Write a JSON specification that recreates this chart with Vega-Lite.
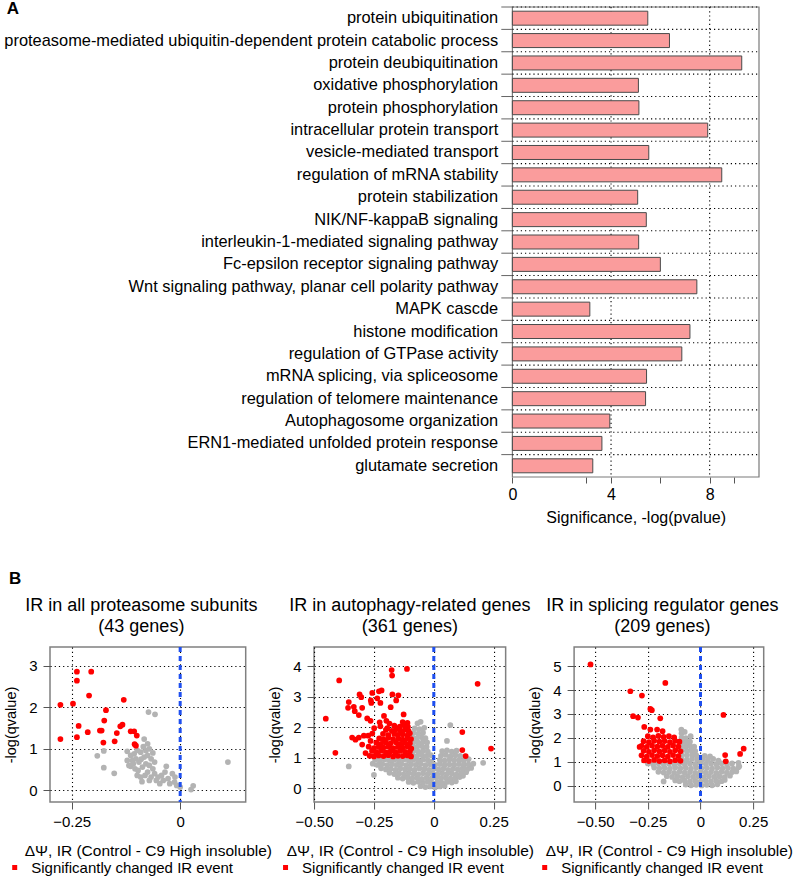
{
"$schema": "https://vega.github.io/schema/vega-lite/v6.json",
"background": "white",
"padding": {"left": 2, "top": 0, "right": 0, "bottom": 0},
"config": {
 "font": "Liberation Sans",
 "view": {"stroke": "#7a7a7a", "strokeWidth": 1.2},
 "axis": {"labelColor": "black", "titleColor": "black", "titleFontWeight": "normal", "domain": false, "tickColor": "#555", "gridColor": "black", "gridDash": [1.2, 3], "gridWidth": 1.1, "gridOpacity": 1},
 "title": {"color": "black", "fontWeight": "normal"},
 "legend": {"labelColor": "black"}
},
"datasets": {
 "go": [
  {"term":"protein ubiquitination","sig":5.49},
  {"term":"proteasome-mediated ubiquitin-dependent protein catabolic process","sig":6.37},
  {"term":"protein deubiquitination","sig":9.30},
  {"term":"oxidative phosphorylation","sig":5.11},
  {"term":"protein phosphorylation","sig":5.13},
  {"term":"intracellular protein transport","sig":7.92},
  {"term":"vesicle-mediated transport","sig":5.53},
  {"term":"regulation of mRNA stability","sig":8.49},
  {"term":"protein stabilization","sig":5.08},
  {"term":"NIK/NF-kappaB signaling","sig":5.43},
  {"term":"interleukin-1-mediated signaling pathway","sig":5.12},
  {"term":"Fc-epsilon receptor signaling pathway","sig":6.00},
  {"term":"Wnt signaling pathway, planar cell polarity pathway","sig":7.48},
  {"term":"MAPK cascde","sig":3.14},
  {"term":"histone modification","sig":7.20},
  {"term":"regulation of GTPase activity","sig":6.87},
  {"term":"mRNA splicing, via spliceosome","sig":5.44},
  {"term":"regulation of telomere maintenance","sig":5.40},
  {"term":"Autophagosome organization","sig":3.95},
  {"term":"ERN1-mediated unfolded protein response","sig":3.63},
  {"term":"glutamate secretion","sig":3.26}
 ],
 "b1": [
  {"x":-0.073,"y":1.885,"s":"ns"},{"x":-0.058,"y":1.83,"s":"ns"},{"x":-0.083,"y":1.235,"s":"ns"},{"x":-0.075,"y":1.12,"s":"ns"},{"x":-0.191,"y":0.83,"s":"ns"},{"x":-0.176,"y":0.95,"s":"ns"},{"x":-0.176,"y":0.545,"s":"ns"},{"x":-0.152,"y":0.41,"s":"ns"},{"x":-0.122,"y":0.94,"s":"ns"},{"x":-0.114,"y":0.84,"s":"ns"},{"x":-0.106,"y":0.88,"s":"ns"},{"x":-0.099,"y":0.96,"s":"ns"},{"x":-0.091,"y":0.92,"s":"ns"},{"x":-0.079,"y":0.96,"s":"ns"},{"x":-0.071,"y":1.0,"s":"ns"},{"x":-0.11,"y":0.72,"s":"ns"},{"x":-0.102,"y":0.76,"s":"ns"},{"x":-0.095,"y":0.68,"s":"ns"},{"x":-0.083,"y":0.8,"s":"ns"},{"x":-0.075,"y":0.84,"s":"ns"},{"x":-0.067,"y":0.76,"s":"ns"},{"x":-0.114,"y":0.58,"s":"ns"},{"x":-0.104,"y":0.52,"s":"ns"},{"x":-0.097,"y":0.48,"s":"ns"},{"x":-0.087,"y":0.56,"s":"ns"},{"x":-0.079,"y":0.64,"s":"ns"},{"x":-0.071,"y":0.6,"s":"ns"},{"x":-0.063,"y":0.52,"s":"ns"},{"x":-0.075,"y":0.44,"s":"ns"},{"x":-0.081,"y":0.36,"s":"ns"},{"x":-0.088,"y":0.21,"s":"ns"},{"x":-0.067,"y":0.32,"s":"ns"},{"x":-0.059,"y":0.4,"s":"ns"},{"x":-0.051,"y":0.32,"s":"ns"},{"x":-0.043,"y":0.36,"s":"ns"},{"x":-0.032,"y":0.58,"s":"ns"},{"x":-0.039,"y":0.24,"s":"ns"},{"x":-0.047,"y":0.16,"s":"ns"},{"x":-0.028,"y":0.28,"s":"ns"},{"x":-0.018,"y":0.4,"s":"ns"},{"x":-0.024,"y":0.16,"s":"ns"},{"x":-0.013,"y":0.2,"s":"ns"},{"x":-0.008,"y":0.12,"s":"ns"},{"x":0.0,"y":0.08,"s":"ns"},{"x":0.025,"y":0.02,"s":"ns"},{"x":0.03,"y":0.11,"s":"ns"},{"x":0.11,"y":0.68,"s":"ns"},{"x":-0.122,"y":0.72,"s":"ns"},{"x":-0.108,"y":0.64,"s":"ns"},{"x":-0.059,"y":0.68,"s":"ns"},{"x":-0.091,"y":0.32,"s":"ns"},{"x":-0.099,"y":0.36,"s":"ns"},{"x":-0.035,"y":0.44,"s":"ns"},{"x":-0.055,"y":0.24,"s":"ns"},{"x":-0.071,"y":0.24,"s":"ns"},{"x":-0.012,"y":0.32,"s":"ns"},{"x":-0.118,"y":0.6,"s":"ns"},{"x":-0.085,"y":1.05,"s":"ns"},{"x":-0.09,"y":0.75,"s":"ns"},{"x":-0.063,"y":0.9,"s":"ns"},
  {"x":-0.238,"y":2.855,"s":"sig"},{"x":-0.205,"y":2.855,"s":"sig"},{"x":-0.238,"y":2.64,"s":"sig"},{"x":-0.21,"y":2.28,"s":"sig"},{"x":-0.13,"y":2.18,"s":"sig"},{"x":-0.276,"y":2.06,"s":"sig"},{"x":-0.247,"y":2.085,"s":"sig"},{"x":-0.171,"y":1.93,"s":"sig"},{"x":-0.175,"y":1.68,"s":"sig"},{"x":-0.234,"y":1.55,"s":"sig"},{"x":-0.213,"y":1.4,"s":"sig"},{"x":-0.185,"y":1.44,"s":"sig"},{"x":-0.181,"y":1.44,"s":"sig"},{"x":-0.146,"y":1.38,"s":"sig"},{"x":-0.138,"y":1.54,"s":"sig"},{"x":-0.133,"y":1.58,"s":"sig"},{"x":-0.114,"y":1.42,"s":"sig"},{"x":-0.106,"y":1.42,"s":"sig"},{"x":-0.1,"y":1.32,"s":"sig"},{"x":-0.276,"y":1.235,"s":"sig"},{"x":-0.238,"y":1.28,"s":"sig"},{"x":-0.177,"y":1.15,"s":"sig"},{"x":-0.151,"y":1.18,"s":"sig"},{"x":-0.105,"y":1.11,"s":"sig"},{"x":-0.102,"y":1.075,"s":"sig"}
 ],
 "b2": [
  {"x":-0.055,"y":0.06,"s":"ns"},{"x":-0.035,"y":0.03,"s":"ns"},{"x":-0.015,"y":0.05,"s":"ns"},{"x":0.005,"y":0.02,"s":"ns"},{"x":0.025,"y":0.05,"s":"ns"},{"x":0.045,"y":0.07,"s":"ns"},
  {"x":-0.105,"y":0.2,"s":"ns"},{"x":-0.085,"y":0.17,"s":"ns"},{"x":-0.065,"y":0.21,"s":"ns"},{"x":-0.045,"y":0.18,"s":"ns"},{"x":-0.025,"y":0.2,"s":"ns"},{"x":-0.005,"y":0.16,"s":"ns"},{"x":0.015,"y":0.19,"s":"ns"},{"x":0.035,"y":0.17,"s":"ns"},{"x":0.055,"y":0.2,"s":"ns"},{"x":0.075,"y":0.18,"s":"ns"},{"x":0.092,"y":0.22,"s":"ns"},
  {"x":-0.15,"y":0.34,"s":"ns"},{"x":-0.13,"y":0.31,"s":"ns"},{"x":-0.11,"y":0.35,"s":"ns"},{"x":-0.09,"y":0.32,"s":"ns"},{"x":-0.07,"y":0.34,"s":"ns"},{"x":-0.05,"y":0.3,"s":"ns"},{"x":-0.03,"y":0.33,"s":"ns"},{"x":-0.01,"y":0.31,"s":"ns"},{"x":0.01,"y":0.35,"s":"ns"},{"x":0.03,"y":0.32,"s":"ns"},{"x":0.05,"y":0.34,"s":"ns"},{"x":0.07,"y":0.31,"s":"ns"},{"x":0.09,"y":0.34,"s":"ns"},{"x":0.108,"y":0.36,"s":"ns"},{"x":0.122,"y":0.4,"s":"ns"},
  {"x":-0.185,"y":0.5,"s":"ns"},{"x":-0.165,"y":0.46,"s":"ns"},{"x":-0.145,"y":0.48,"s":"ns"},{"x":-0.125,"y":0.45,"s":"ns"},{"x":-0.105,"y":0.49,"s":"ns"},{"x":-0.085,"y":0.47,"s":"ns"},{"x":-0.065,"y":0.45,"s":"ns"},{"x":-0.045,"y":0.49,"s":"ns"},{"x":-0.025,"y":0.46,"s":"ns"},{"x":-0.005,"y":0.48,"s":"ns"},{"x":0.015,"y":0.45,"s":"ns"},{"x":0.035,"y":0.49,"s":"ns"},{"x":0.055,"y":0.46,"s":"ns"},{"x":0.075,"y":0.48,"s":"ns"},{"x":0.095,"y":0.45,"s":"ns"},{"x":0.115,"y":0.5,"s":"ns"},{"x":0.135,"y":0.52,"s":"ns"},
  {"x":-0.22,"y":0.65,"s":"ns"},{"x":-0.2,"y":0.61,"s":"ns"},{"x":-0.18,"y":0.63,"s":"ns"},{"x":-0.16,"y":0.6,"s":"ns"},{"x":-0.14,"y":0.64,"s":"ns"},{"x":-0.12,"y":0.61,"s":"ns"},{"x":-0.1,"y":0.63,"s":"ns"},{"x":-0.08,"y":0.6,"s":"ns"},{"x":-0.06,"y":0.64,"s":"ns"},{"x":-0.04,"y":0.62,"s":"ns"},{"x":-0.02,"y":0.6,"s":"ns"},{"x":0.0,"y":0.63,"s":"ns"},{"x":0.02,"y":0.61,"s":"ns"},{"x":0.04,"y":0.64,"s":"ns"},{"x":0.06,"y":0.6,"s":"ns"},{"x":0.08,"y":0.63,"s":"ns"},{"x":0.1,"y":0.61,"s":"ns"},{"x":0.12,"y":0.64,"s":"ns"},{"x":0.14,"y":0.62,"s":"ns"},{"x":0.156,"y":0.66,"s":"ns"},
  {"x":-0.255,"y":0.8,"s":"ns"},{"x":-0.235,"y":0.76,"s":"ns"},{"x":-0.215,"y":0.79,"s":"ns"},{"x":-0.195,"y":0.75,"s":"ns"},{"x":-0.175,"y":0.78,"s":"ns"},{"x":-0.155,"y":0.76,"s":"ns"},{"x":-0.135,"y":0.79,"s":"ns"},{"x":-0.115,"y":0.75,"s":"ns"},{"x":-0.095,"y":0.78,"s":"ns"},{"x":-0.075,"y":0.76,"s":"ns"},{"x":-0.055,"y":0.79,"s":"ns"},{"x":-0.035,"y":0.75,"s":"ns"},{"x":-0.015,"y":0.78,"s":"ns"},{"x":0.005,"y":0.76,"s":"ns"},{"x":0.025,"y":0.79,"s":"ns"},{"x":0.045,"y":0.75,"s":"ns"},{"x":0.065,"y":0.78,"s":"ns"},{"x":0.085,"y":0.76,"s":"ns"},{"x":0.105,"y":0.79,"s":"ns"},{"x":0.125,"y":0.75,"s":"ns"},{"x":0.145,"y":0.78,"s":"ns"},{"x":0.165,"y":0.8,"s":"ns"},
  {"x":-0.245,"y":0.93,"s":"ns"},{"x":-0.225,"y":0.9,"s":"ns"},{"x":-0.205,"y":0.94,"s":"ns"},{"x":-0.185,"y":0.91,"s":"ns"},{"x":-0.165,"y":0.93,"s":"ns"},{"x":-0.145,"y":0.9,"s":"ns"},{"x":-0.125,"y":0.94,"s":"ns"},{"x":-0.105,"y":0.91,"s":"ns"},{"x":-0.085,"y":0.93,"s":"ns"},{"x":-0.065,"y":0.9,"s":"ns"},{"x":-0.045,"y":0.94,"s":"ns"},{"x":-0.025,"y":0.91,"s":"ns"},{"x":-0.01,"y":0.88,"s":"ns"},{"x":0.025,"y":0.93,"s":"ns"},{"x":0.045,"y":0.9,"s":"ns"},{"x":0.065,"y":0.94,"s":"ns"},{"x":0.085,"y":0.91,"s":"ns"},{"x":0.105,"y":0.93,"s":"ns"},{"x":0.125,"y":0.9,"s":"ns"},{"x":0.145,"y":0.95,"s":"ns"},
  {"x":-0.09,"y":1.08,"s":"ns"},{"x":-0.07,"y":1.05,"s":"ns"},{"x":-0.05,"y":1.09,"s":"ns"},{"x":-0.03,"y":1.06,"s":"ns"},{"x":-0.012,"y":1.08,"s":"ns"},{"x":0.03,"y":1.06,"s":"ns"},{"x":0.05,"y":1.09,"s":"ns"},{"x":0.07,"y":1.05,"s":"ns"},{"x":0.09,"y":1.08,"s":"ns"},{"x":0.11,"y":1.06,"s":"ns"},{"x":0.13,"y":1.04,"s":"ns"},
  {"x":-0.085,"y":1.22,"s":"ns"},{"x":-0.065,"y":1.2,"s":"ns"},{"x":-0.045,"y":1.23,"s":"ns"},{"x":-0.025,"y":1.2,"s":"ns"},{"x":0.035,"y":1.21,"s":"ns"},{"x":0.055,"y":1.24,"s":"ns"},{"x":0.075,"y":1.2,"s":"ns"},{"x":0.095,"y":1.23,"s":"ns"},
  {"x":-0.09,"y":1.37,"s":"ns"},{"x":-0.07,"y":1.35,"s":"ns"},{"x":-0.05,"y":1.38,"s":"ns"},{"x":-0.03,"y":1.35,"s":"ns"},
  {"x":-0.085,"y":1.51,"s":"ns"},{"x":-0.065,"y":1.49,"s":"ns"},{"x":-0.045,"y":1.52,"s":"ns"},{"x":-0.028,"y":1.5,"s":"ns"},{"x":0.055,"y":1.55,"s":"ns"},
  {"x":-0.09,"y":1.66,"s":"ns"},{"x":-0.07,"y":1.64,"s":"ns"},{"x":-0.05,"y":1.67,"s":"ns"},{"x":-0.035,"y":1.64,"s":"ns"},
  {"x":-0.085,"y":1.81,"s":"ns"},{"x":-0.065,"y":1.79,"s":"ns"},{"x":-0.045,"y":1.82,"s":"ns"},
  {"x":-0.08,"y":1.96,"s":"ns"},{"x":-0.06,"y":1.94,"s":"ns"},{"x":-0.04,"y":1.98,"s":"ns"},
  {"x":-0.068,"y":2.13,"s":"ns"},{"x":-0.055,"y":2.18,"s":"ns"},
  {"x":-0.355,"y":0.71,"s":"ns"},{"x":-0.25,"y":0.43,"s":"ns"},{"x":0.069,"y":2.07,"s":"ns"},{"x":0.206,"y":0.83,"s":"ns"},
  {"x":-0.112,"y":3.92,"s":"sig"},{"x":-0.176,"y":3.88,"s":"sig"},{"x":-0.174,"y":3.7,"s":"sig"},{"x":-0.395,"y":3.54,"s":"sig"},{"x":0.183,"y":3.43,"s":"sig"},{"x":-0.451,"y":2.28,"s":"sig"},{"x":-0.411,"y":1.16,"s":"sig"},{"x":0.119,"y":1.84,"s":"sig"},{"x":0.119,"y":1.25,"s":"sig"},{"x":0.133,"y":1.05,"s":"sig"},{"x":0.239,"y":1.3,"s":"sig"},
  {"x":-0.31,"y":3.08,"s":"sig"},{"x":-0.303,"y":2.99,"s":"sig"},{"x":-0.257,"y":3.13,"s":"sig"},{"x":-0.229,"y":3.18,"s":"sig"},{"x":-0.218,"y":3.21,"s":"sig"},{"x":-0.173,"y":3.08,"s":"sig"},{"x":-0.148,"y":3.05,"s":"sig"},{"x":-0.157,"y":2.88,"s":"sig"},{"x":-0.263,"y":2.88,"s":"sig"},{"x":-0.236,"y":2.95,"s":"sig"},{"x":-0.355,"y":2.83,"s":"sig"},{"x":-0.334,"y":2.67,"s":"sig"},{"x":-0.358,"y":2.64,"s":"sig"},{"x":-0.33,"y":2.53,"s":"sig"},{"x":-0.299,"y":2.64,"s":"sig"},{"x":-0.261,"y":2.8,"s":"sig"},{"x":-0.223,"y":2.8,"s":"sig"},{"x":-0.18,"y":2.66,"s":"sig"},{"x":-0.126,"y":2.42,"s":"sig"},{"x":-0.313,"y":2.4,"s":"sig"},{"x":-0.278,"y":2.29,"s":"sig"},{"x":-0.264,"y":2.21,"s":"sig"},{"x":-0.208,"y":2.37,"s":"sig"},{"x":-0.198,"y":2.21,"s":"sig"},{"x":-0.249,"y":1.97,"s":"sig"},{"x":-0.223,"y":2.03,"s":"sig"},{"x":-0.194,"y":1.97,"s":"sig"},{"x":-0.341,"y":1.66,"s":"sig"},{"x":-0.327,"y":1.59,"s":"sig"},{"x":-0.313,"y":1.66,"s":"sig"},{"x":-0.292,"y":1.72,"s":"sig"},{"x":-0.274,"y":1.72,"s":"sig"},{"x":-0.257,"y":1.79,"s":"sig"},{"x":-0.299,"y":1.43,"s":"sig"},{"x":-0.264,"y":1.55,"s":"sig"},{"x":-0.285,"y":1.15,"s":"sig"},{"x":-0.226,"y":2.16,"s":"sig"},{"x":-0.185,"y":2.12,"s":"sig"},
  {"x":-0.268,"y":1.06,"s":"sig"},{"x":-0.25,"y":1.04,"s":"sig"},{"x":-0.23,"y":1.07,"s":"sig"},{"x":-0.21,"y":1.05,"s":"sig"},{"x":-0.19,"y":1.08,"s":"sig"},{"x":-0.17,"y":1.04,"s":"sig"},{"x":-0.15,"y":1.06,"s":"sig"},{"x":-0.13,"y":1.05,"s":"sig"},{"x":-0.11,"y":1.07,"s":"sig"},{"x":-0.095,"y":1.04,"s":"sig"},
  {"x":-0.258,"y":1.22,"s":"sig"},{"x":-0.24,"y":1.18,"s":"sig"},{"x":-0.22,"y":1.23,"s":"sig"},{"x":-0.2,"y":1.17,"s":"sig"},{"x":-0.18,"y":1.21,"s":"sig"},{"x":-0.16,"y":1.18,"s":"sig"},{"x":-0.14,"y":1.22,"s":"sig"},{"x":-0.12,"y":1.19,"s":"sig"},{"x":-0.1,"y":1.2,"s":"sig"},
  {"x":-0.272,"y":1.36,"s":"sig"},{"x":-0.25,"y":1.31,"s":"sig"},{"x":-0.23,"y":1.35,"s":"sig"},{"x":-0.21,"y":1.33,"s":"sig"},{"x":-0.19,"y":1.36,"s":"sig"},{"x":-0.17,"y":1.31,"s":"sig"},{"x":-0.15,"y":1.35,"s":"sig"},{"x":-0.13,"y":1.33,"s":"sig"},{"x":-0.11,"y":1.36,"s":"sig"},{"x":-0.094,"y":1.3,"s":"sig"},
  {"x":-0.24,"y":1.49,"s":"sig"},{"x":-0.22,"y":1.45,"s":"sig"},{"x":-0.2,"y":1.5,"s":"sig"},{"x":-0.18,"y":1.47,"s":"sig"},{"x":-0.158,"y":1.51,"s":"sig"},{"x":-0.14,"y":1.45,"s":"sig"},{"x":-0.12,"y":1.49,"s":"sig"},{"x":-0.1,"y":1.47,"s":"sig"},
  {"x":-0.228,"y":1.63,"s":"sig"},{"x":-0.21,"y":1.6,"s":"sig"},{"x":-0.19,"y":1.65,"s":"sig"},{"x":-0.17,"y":1.61,"s":"sig"},{"x":-0.148,"y":1.63,"s":"sig"},{"x":-0.13,"y":1.59,"s":"sig"},{"x":-0.11,"y":1.64,"s":"sig"},{"x":-0.095,"y":1.61,"s":"sig"},
  {"x":-0.212,"y":1.78,"s":"sig"},{"x":-0.19,"y":1.74,"s":"sig"},{"x":-0.165,"y":1.78,"s":"sig"},{"x":-0.15,"y":1.75,"s":"sig"},{"x":-0.13,"y":1.77,"s":"sig"},{"x":-0.11,"y":1.73,"s":"sig"},{"x":-0.1,"y":1.8,"s":"sig"},
  {"x":-0.2,"y":1.91,"s":"sig"},{"x":-0.175,"y":1.88,"s":"sig"},{"x":-0.158,"y":1.93,"s":"sig"},{"x":-0.14,"y":1.89,"s":"sig"},{"x":-0.12,"y":1.92,"s":"sig"},{"x":-0.105,"y":1.87,"s":"sig"},
  {"x":-0.165,"y":2.05,"s":"sig"},{"x":-0.142,"y":2.02,"s":"sig"},{"x":-0.125,"y":2.07,"s":"sig"},{"x":-0.108,"y":2.01,"s":"sig"},
  {"x":-0.13,"y":2.17,"s":"sig"},{"x":-0.11,"y":2.14,"s":"sig"}
 ],
 "b3": [
  {"x":-0.07,"y":0.05,"s":"ns"},{"x":-0.045,"y":0.02,"s":"ns"},{"x":-0.02,"y":0.04,"s":"ns"},{"x":0.005,"y":0.01,"s":"ns"},{"x":0.03,"y":0.04,"s":"ns"},{"x":0.055,"y":0.02,"s":"ns"},{"x":0.08,"y":0.06,"s":"ns"},
  {"x":-0.175,"y":0.18,"s":"ns"},{"x":-0.12,"y":0.22,"s":"ns"},{"x":-0.1,"y":0.19,"s":"ns"},{"x":-0.075,"y":0.21,"s":"ns"},{"x":-0.05,"y":0.18,"s":"ns"},{"x":-0.025,"y":0.2,"s":"ns"},{"x":0.0,"y":0.17,"s":"ns"},{"x":0.025,"y":0.21,"s":"ns"},{"x":0.05,"y":0.18,"s":"ns"},{"x":0.075,"y":0.2,"s":"ns"},{"x":0.1,"y":0.19,"s":"ns"},{"x":0.115,"y":0.24,"s":"ns"},
  {"x":-0.16,"y":0.4,"s":"ns"},{"x":-0.135,"y":0.37,"s":"ns"},{"x":-0.11,"y":0.39,"s":"ns"},{"x":-0.085,"y":0.36,"s":"ns"},{"x":-0.06,"y":0.4,"s":"ns"},{"x":-0.035,"y":0.37,"s":"ns"},{"x":-0.01,"y":0.39,"s":"ns"},{"x":0.015,"y":0.36,"s":"ns"},{"x":0.04,"y":0.4,"s":"ns"},{"x":0.065,"y":0.37,"s":"ns"},{"x":0.09,"y":0.39,"s":"ns"},{"x":0.115,"y":0.36,"s":"ns"},{"x":0.14,"y":0.42,"s":"ns"},
  {"x":-0.2,"y":0.58,"s":"ns"},{"x":-0.175,"y":0.55,"s":"ns"},{"x":-0.15,"y":0.57,"s":"ns"},{"x":-0.125,"y":0.54,"s":"ns"},{"x":-0.1,"y":0.58,"s":"ns"},{"x":-0.075,"y":0.55,"s":"ns"},{"x":-0.05,"y":0.57,"s":"ns"},{"x":-0.025,"y":0.54,"s":"ns"},{"x":0.0,"y":0.58,"s":"ns"},{"x":0.025,"y":0.55,"s":"ns"},{"x":0.05,"y":0.57,"s":"ns"},{"x":0.075,"y":0.54,"s":"ns"},{"x":0.1,"y":0.58,"s":"ns"},{"x":0.125,"y":0.55,"s":"ns"},{"x":0.15,"y":0.57,"s":"ns"},{"x":0.17,"y":0.6,"s":"ns"},
  {"x":-0.22,"y":0.76,"s":"ns"},{"x":-0.195,"y":0.73,"s":"ns"},{"x":-0.17,"y":0.75,"s":"ns"},{"x":-0.145,"y":0.72,"s":"ns"},{"x":-0.12,"y":0.76,"s":"ns"},{"x":-0.095,"y":0.73,"s":"ns"},{"x":-0.07,"y":0.75,"s":"ns"},{"x":-0.045,"y":0.72,"s":"ns"},{"x":-0.02,"y":0.76,"s":"ns"},{"x":0.005,"y":0.73,"s":"ns"},{"x":0.03,"y":0.75,"s":"ns"},{"x":0.055,"y":0.72,"s":"ns"},{"x":0.08,"y":0.76,"s":"ns"},{"x":0.105,"y":0.73,"s":"ns"},{"x":0.13,"y":0.75,"s":"ns"},{"x":0.155,"y":0.72,"s":"ns"},{"x":0.18,"y":0.77,"s":"ns"},
  {"x":-0.25,"y":0.93,"s":"ns"},{"x":-0.225,"y":0.9,"s":"ns"},{"x":-0.2,"y":0.94,"s":"ns"},{"x":-0.175,"y":0.91,"s":"ns"},{"x":-0.15,"y":0.93,"s":"ns"},{"x":-0.125,"y":0.9,"s":"ns"},{"x":-0.1,"y":0.94,"s":"ns"},{"x":-0.075,"y":0.91,"s":"ns"},{"x":-0.05,"y":0.93,"s":"ns"},{"x":-0.025,"y":0.9,"s":"ns"},{"x":0.0,"y":0.94,"s":"ns"},{"x":0.025,"y":0.91,"s":"ns"},{"x":0.05,"y":0.93,"s":"ns"},{"x":0.075,"y":0.9,"s":"ns"},{"x":0.1,"y":0.94,"s":"ns"},{"x":0.125,"y":0.91,"s":"ns"},{"x":0.15,"y":0.93,"s":"ns"},{"x":0.18,"y":0.96,"s":"ns"},
  {"x":-0.09,"y":1.11,"s":"ns"},{"x":-0.065,"y":1.08,"s":"ns"},{"x":-0.04,"y":1.12,"s":"ns"},{"x":-0.015,"y":1.09,"s":"ns"},{"x":0.01,"y":1.11,"s":"ns"},{"x":0.035,"y":1.08,"s":"ns"},{"x":0.06,"y":1.12,"s":"ns"},{"x":0.085,"y":1.05,"s":"ns"},
  {"x":-0.09,"y":1.29,"s":"ns"},{"x":-0.065,"y":1.27,"s":"ns"},{"x":-0.04,"y":1.3,"s":"ns"},{"x":-0.02,"y":1.27,"s":"ns"},{"x":0.02,"y":1.25,"s":"ns"},{"x":0.045,"y":1.23,"s":"ns"},
  {"x":-0.09,"y":1.47,"s":"ns"},{"x":-0.065,"y":1.45,"s":"ns"},{"x":-0.045,"y":1.48,"s":"ns"},{"x":-0.025,"y":1.45,"s":"ns"},
  {"x":-0.09,"y":1.65,"s":"ns"},{"x":-0.07,"y":1.63,"s":"ns"},{"x":-0.05,"y":1.66,"s":"ns"},{"x":-0.03,"y":1.63,"s":"ns"},
  {"x":-0.09,"y":1.83,"s":"ns"},{"x":-0.07,"y":1.81,"s":"ns"},{"x":-0.05,"y":1.84,"s":"ns"},
  {"x":-0.09,"y":2.01,"s":"ns"},{"x":-0.07,"y":1.99,"s":"ns"},{"x":-0.047,"y":2.07,"s":"ns"},
  {"x":-0.09,"y":2.19,"s":"ns"},{"x":-0.075,"y":2.25,"s":"ns"},{"x":-0.091,"y":2.35,"s":"ns"},{"x":0.184,"y":0.81,"s":"ns"},
  {"x":-0.522,"y":5.07,"s":"sig"},{"x":-0.167,"y":4.3,"s":"sig"},{"x":-0.333,"y":3.95,"s":"sig"},{"x":-0.278,"y":3.77,"s":"sig"},{"x":-0.238,"y":3.21,"s":"sig"},{"x":-0.231,"y":3.16,"s":"sig"},{"x":-0.32,"y":2.91,"s":"sig"},{"x":-0.297,"y":2.85,"s":"sig"},{"x":-0.191,"y":2.82,"s":"sig"},{"x":0.109,"y":2.96,"s":"sig"},{"x":-0.267,"y":2.46,"s":"sig"},{"x":-0.238,"y":2.35,"s":"sig"},{"x":-0.206,"y":2.35,"s":"sig"},{"x":-0.18,"y":2.28,"s":"sig"},{"x":0.117,"y":1.28,"s":"sig"},{"x":0.12,"y":1.02,"s":"sig"},{"x":0.188,"y":1.33,"s":"sig"},{"x":0.205,"y":1.55,"s":"sig"},{"x":-0.289,"y":1.62,"s":"sig"},
  {"x":-0.268,"y":1.06,"s":"sig"},{"x":-0.245,"y":1.03,"s":"sig"},{"x":-0.22,"y":1.08,"s":"sig"},{"x":-0.195,"y":1.03,"s":"sig"},{"x":-0.17,"y":1.06,"s":"sig"},{"x":-0.145,"y":1.02,"s":"sig"},{"x":-0.12,"y":1.07,"s":"sig"},{"x":-0.095,"y":1.04,"s":"sig"},
  {"x":-0.28,"y":1.27,"s":"sig"},{"x":-0.255,"y":1.22,"s":"sig"},{"x":-0.23,"y":1.28,"s":"sig"},{"x":-0.205,"y":1.24,"s":"sig"},{"x":-0.18,"y":1.27,"s":"sig"},{"x":-0.155,"y":1.22,"s":"sig"},{"x":-0.13,"y":1.28,"s":"sig"},{"x":-0.105,"y":1.24,"s":"sig"},
  {"x":-0.27,"y":1.46,"s":"sig"},{"x":-0.245,"y":1.42,"s":"sig"},{"x":-0.22,"y":1.48,"s":"sig"},{"x":-0.195,"y":1.44,"s":"sig"},{"x":-0.17,"y":1.47,"s":"sig"},{"x":-0.145,"y":1.42,"s":"sig"},{"x":-0.12,"y":1.48,"s":"sig"},{"x":-0.095,"y":1.44,"s":"sig"},
  {"x":-0.28,"y":1.67,"s":"sig"},{"x":-0.255,"y":1.62,"s":"sig"},{"x":-0.23,"y":1.68,"s":"sig"},{"x":-0.205,"y":1.64,"s":"sig"},{"x":-0.18,"y":1.67,"s":"sig"},{"x":-0.155,"y":1.62,"s":"sig"},{"x":-0.13,"y":1.68,"s":"sig"},{"x":-0.105,"y":1.64,"s":"sig"},
  {"x":-0.27,"y":1.86,"s":"sig"},{"x":-0.245,"y":1.82,"s":"sig"},{"x":-0.22,"y":1.88,"s":"sig"},{"x":-0.195,"y":1.84,"s":"sig"},{"x":-0.17,"y":1.87,"s":"sig"},{"x":-0.145,"y":1.82,"s":"sig"},{"x":-0.12,"y":1.88,"s":"sig"},{"x":-0.1,"y":1.84,"s":"sig"},
  {"x":-0.25,"y":2.07,"s":"sig"},{"x":-0.225,"y":2.02,"s":"sig"},{"x":-0.2,"y":2.08,"s":"sig"},{"x":-0.175,"y":2.04,"s":"sig"},{"x":-0.15,"y":2.07,"s":"sig"},{"x":-0.125,"y":2.02,"s":"sig"}
 ]
},
"spacing": 44,
"vconcat": [
 {
  "title": {"text": "A", "anchor": "start", "frame": "group", "fontSize": 17, "fontWeight": "bold", "offset": -12, "dx": -43.3},
  "width": 709, "height": 470,
  "view": {"stroke": null},
  "layer": [
   {"data": {"values": [{"a": 0, "b": 10}]},
    "mark": {"type": "rect", "filled": false, "stroke": "#7a7a7a", "strokeWidth": 1.2},
    "encoding": {"x": {"field": "a", "type": "quantitative", "title": "Significance, -log(pvalue)"}, "x2": {"field": "b"}}},
   {"data": {"values": [{"g": 4}, {"g": 8}]},
    "mark": {"type": "rule", "color": "black", "strokeDash": [1.2, 3], "strokeWidth": 1.1},
    "encoding": {"x": {"field": "g", "type": "quantitative", "title": "Significance, -log(pvalue)"}}},
   {"data": {"name": "go"},
    "mark": {"type": "rule", "color": "black", "strokeDash": [1.2, 3], "strokeWidth": 1.1},
    "encoding": {
     "y": {"field": "term", "type": "nominal", "sort": null, "bandPosition": 0},
     "x": {"datum": 0, "type": "quantitative"}, "x2": {"datum": 10}}},
   {"data": {"name": "go"},
    "mark": {"type": "rule", "color": "#666", "strokeWidth": 1},
    "encoding": {
     "y": {"field": "term", "type": "nominal", "sort": null, "bandPosition": 0},
     "x": {"datum": -0.45, "type": "quantitative"}, "x2": {"datum": 0}}},
   {"data": {"name": "go"},
    "mark": {"type": "bar", "fill": "#FA9C9C", "stroke": "#4a4a4a", "strokeWidth": 1, "height": {"band": 0.625}},
    "encoding": {
     "y": {"field": "term", "type": "nominal", "sort": null,
           "scale": {"paddingInner": 0, "paddingOuter": 0},
           "axis": {"title": null, "labelFontSize": 16.4, "ticks": false, "tickSize": 0, "labelPadding": -447.7, "grid": false, "labelLimit": 700}},
     "x": {"field": "sig", "type": "quantitative", "title": "Significance, -log(pvalue)",
           "scale": {"domain": [0, 10], "range": [462.4, 709], "nice": false},
           "axis": {"titleFontSize": 16, "labelFontSize": 16, "values": [0, 3, 4, 6, 8, 9], "labelExpr": "datum.value % 4 == 0 ? format(datum.value, '.0f') : ''", "tickSize": 6, "labelPadding": 3, "titlePadding": 7, "grid": false, "labelFlush": false}}
    }}
  ]
 },
 {
  "title": {"text": "B", "anchor": "start", "frame": "bounds", "fontSize": 17, "fontWeight": "bold", "offset": 8, "dx": 6},
  "spacing": 68.05,
  "bounds": "flush",
  "resolve": {"scale": {"x": "independent", "y": "independent", "color": "independent"}},
  "hconcat": [
   {
    "width": 195.7, "height": 155,
    "title": {"text": ["IR in all proteasome subunits", "(43 genes)"], "fontSize": 18, "lineHeight": 21, "offset": 10, "dx": -6.5, "anchor": "middle", "frame": "group"},
    "view": {"stroke": "#808080", "strokeWidth": 1.5},
    "layer": [
     {"data": {"name": "b1"},
      "mark": {"type": "circle", "size": 33, "opacity": 1},
      "encoding": {
       "x": {"field": "x", "type": "quantitative", "title": "ΔΨ, IR (Control - C9 High insoluble)", "scale": {"domain": [-0.3, 0.151], "nice": false, "zero": false},
             "axis": {"titleFontSize": 15.5, "labelFontSize": 15, "values": [-0.25, 0], "labelExpr": "datum.value == 0 ? '0' : format(datum.value, '.2f')", "tickSize": 7, "labelPadding": 5, "titlePadding": 14, "grid": true, "labelFlush": false}},
       "y": {"field": "y", "type": "quantitative", "title": "-log(qvalue)", "scale": {"domain": [-0.28, 3.45], "nice": false, "zero": false},
             "axis": {"titleFontSize": 14.5, "labelFontSize": 15, "values": [0, 1, 2, 3], "tickSize": 7, "labelPadding": 6, "titlePadding": 10, "grid": true, "labelFlush": false}},
       "color": {"field": "s", "type": "nominal", "scale": {"domain": ["ns", "sig"], "range": ["#B3B3B3", "#FF0000"]},
                 "legend": {"values": ["sig"], "labelExpr": "'Significantly changed IR event'", "title": null, "orient": "none", "legendX": -42.8, "legendY": 213, "symbolType": "square", "symbolSize": 25, "labelFontSize": 15, "labelOffset": 9, "labelLimit": 400, "padding": 0}}
      }},
     {"data": {"values": [{"z": 0}]},
      "mark": {"type": "rule", "color": "#1E4FF0", "strokeWidth": 3, "strokeDash": [5, 4]},
      "encoding": {"x": {"field": "z", "type": "quantitative", "title": "ΔΨ, IR (Control - C9 High insoluble)"}}}
    ]
   },
   {
    "width": 191.6, "height": 155,
    "title": {"text": ["IR in autophagy-related genes", "(361 genes)"], "fontSize": 18, "lineHeight": 21, "offset": 10, "dx": 0, "anchor": "middle", "frame": "group"},
    "view": {"stroke": "#808080", "strokeWidth": 1.5},
    "layer": [
     {"data": {"name": "b2"},
      "mark": {"type": "circle", "size": 33, "opacity": 1},
      "encoding": {
       "x": {"field": "x", "type": "quantitative", "title": "ΔΨ, IR (Control - C9 High insoluble)", "scale": {"domain": [-0.5, 0.3], "nice": false, "zero": false},
             "axis": {"titleFontSize": 15.5, "labelFontSize": 15, "values": [-0.5, -0.25, 0, 0.25], "labelExpr": "datum.value == 0 ? '0' : format(datum.value, '.2f')", "tickSize": 7, "labelPadding": 5, "titlePadding": 14, "grid": true, "labelFlush": false}},
       "y": {"field": "y", "type": "quantitative", "title": "-log(qvalue)", "scale": {"domain": [-0.46, 4.64], "nice": false, "zero": false},
             "axis": {"titleFontSize": 14.5, "labelFontSize": 15, "values": [0, 1, 2, 3, 4], "tickSize": 7, "labelPadding": 6, "titlePadding": 10, "grid": true, "labelFlush": false}},
       "color": {"field": "s", "type": "nominal", "scale": {"domain": ["ns", "sig"], "range": ["#B3B3B3", "#FF0000"]},
                 "legend": {"values": ["sig"], "labelExpr": "'Significantly changed IR event'", "title": null, "orient": "none", "legendX": -36, "legendY": 213, "symbolType": "square", "symbolSize": 25, "labelFontSize": 15, "labelOffset": 9, "labelLimit": 400, "padding": 0}}
      }},
     {"data": {"values": [{"z": 0}]},
      "mark": {"type": "rule", "color": "#1E4FF0", "strokeWidth": 3, "strokeDash": [5, 4]},
      "encoding": {"x": {"field": "z", "type": "quantitative", "title": "ΔΨ, IR (Control - C9 High insoluble)"}}}
    ]
   },
   {
    "width": 189.6, "height": 155,
    "title": {"text": ["IR in splicing regulator genes", "(209 genes)"], "fontSize": 18, "lineHeight": 21, "offset": 10, "dx": -6.5, "anchor": "middle", "frame": "group"},
    "view": {"stroke": "#808080", "strokeWidth": 1.5},
    "layer": [
     {"data": {"name": "b3"},
      "mark": {"type": "circle", "size": 33, "opacity": 1},
      "encoding": {
       "x": {"field": "x", "type": "quantitative", "title": "ΔΨ, IR (Control - C9 High insoluble)", "scale": {"domain": [-0.6, 0.3], "nice": false, "zero": false},
             "axis": {"titleFontSize": 15.5, "labelFontSize": 15, "values": [-0.5, -0.25, 0, 0.25], "labelExpr": "datum.value == 0 ? '0' : format(datum.value, '.2f')", "tickSize": 7, "labelPadding": 5, "titlePadding": 14, "grid": true, "labelFlush": false}},
       "y": {"field": "y", "type": "quantitative", "title": "-log(qvalue)", "scale": {"domain": [-0.68, 5.8], "nice": false, "zero": false},
             "axis": {"titleFontSize": 14.5, "labelFontSize": 15, "values": [0, 1, 2, 3, 4, 5], "tickSize": 7, "labelPadding": 6, "titlePadding": 10, "grid": true, "labelFlush": false}},
       "color": {"field": "s", "type": "nominal", "scale": {"domain": ["ns", "sig"], "range": ["#B3B3B3", "#FF0000"]},
                 "legend": {"values": ["sig"], "labelExpr": "'Significantly changed IR event'", "title": null, "orient": "none", "legendX": -36.9, "legendY": 213, "symbolType": "square", "symbolSize": 25, "labelFontSize": 15, "labelOffset": 9, "labelLimit": 400, "padding": 0}}
      }},
     {"data": {"values": [{"z": 0}]},
      "mark": {"type": "rule", "color": "#1E4FF0", "strokeWidth": 3, "strokeDash": [5, 4]},
      "encoding": {"x": {"field": "z", "type": "quantitative", "title": "ΔΨ, IR (Control - C9 High insoluble)"}}}
    ]
   }
  ]
 }
]
}
